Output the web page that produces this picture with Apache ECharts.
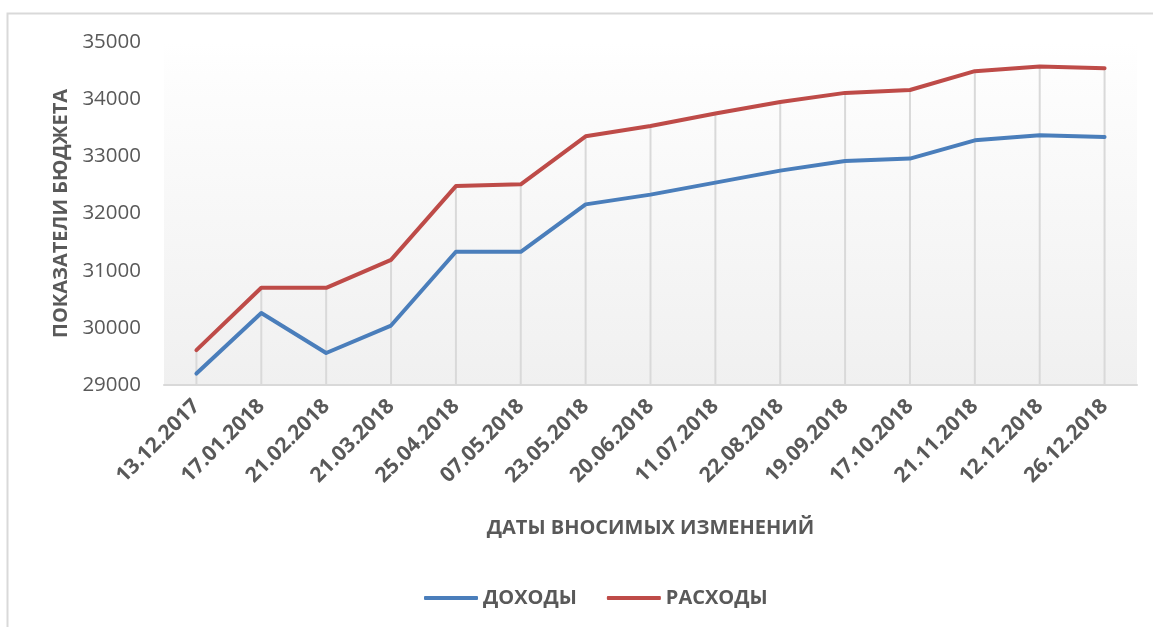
<!DOCTYPE html>
<html>
<head>
<meta charset="utf-8">
<script src="https://cdn.jsdelivr.net/npm/echarts@6/dist/echarts.min.js"></script>
<style>html,body{margin:0;padding:0;background:#fff;}#c{width:1153px;height:627px;}</style>
</head>
<body>
<div id="c"></div>
<script>
const categories = ['13.12.2017','17.01.2018','21.02.2018','21.03.2018','25.04.2018','07.05.2018','23.05.2018','20.06.2018','11.07.2018','22.08.2018','19.09.2018','17.10.2018','21.11.2018','12.12.2018','26.12.2018'];
const incomes  = [29200, 30260, 29560, 30040, 31330, 31330, 32160, 32330, 32540, 32750, 32920, 32960, 33280, 33370, 33340];
const expenses = [29610, 30700, 30700, 31190, 32480, 32510, 33350, 33530, 33750, 33950, 34110, 34160, 34490, 34570, 34540];
const yTicks = [29000, 30000, 31000, 32000, 33000, 34000, 35000];
const seriesNames = ['ДОХОДЫ', 'РАСХОДЫ'];
const axisTitles = { x: 'ДАТЫ ВНОСИМЫХ ИЗМЕНЕНИЙ', y: 'ПОКАЗАТЕЛИ БЮДЖЕТА' };

const FONT = '"Open Sans", "Noto Sans", sans-serif';
const TXT = '#595959';
const chart = echarts.init(document.getElementById('c'), null, { renderer: 'canvas' });
const dropTops = categories.map((c, i) => Math.max(incomes[i], expenses[i]));

chart.setOption({
  animation: false,
  backgroundColor: '#fff',
  graphic: [{
    type: 'rect', silent: true, z: -10,
    shape: { x: 7.5, y: 13.5, width: 1300, height: 800 },
    style: { fill: '#fff', stroke: '#d9d9d9', lineWidth: 2 }
  }],
  grid: {
    left: 164, right: 16, top: 42, bottom: 242,
    show: true, borderWidth: 0,
    backgroundColor: new echarts.graphic.LinearGradient(0, 0, 0, 1, [
      { offset: 0, color: '#ffffff' },
      { offset: 0.1, color: '#fdfdfd' },
      { offset: 1, color: '#f0f0f0' }
    ])
  },
  legend: {
    bottom: 14, left: 419,
    itemWidth: 54, itemHeight: 4, itemGap: 30,
    icon: 'roundRect',
    textStyle: { fontFamily: FONT, fontSize: 20, fontWeight: 'bold', color: TXT },
    data: seriesNames
  },
  xAxis: {
    type: 'category',
    data: categories,
    boundaryGap: true,
    name: axisTitles.x,
    nameLocation: 'middle',
    nameGap: 133,
    nameTextStyle: { fontFamily: FONT, fontSize: 20, fontWeight: 'bold', color: TXT },
    axisLine: { show: true, lineStyle: { color: '#d9d9d9', width: 2 } },
    axisTick: { show: false },
    splitLine: { show: false },
    axisLabel: { rotate: 45, interval: 0, margin: 18, fontFamily: FONT, fontSize: 21, fontWeight: 'bold', color: TXT }
  },
  yAxis: {
    type: 'value',
    min: 29000, max: 35000, interval: 1000,
    name: axisTitles.y,
    nameLocation: 'middle',
    nameGap: 92,
    nameTextStyle: { fontFamily: FONT, fontSize: 20, fontWeight: 'bold', color: TXT },
    axisLine: { show: false },
    axisTick: { show: false },
    splitLine: { show: false },
    axisLabel: { margin: 23, fontFamily: FONT, fontSize: 20.5, color: TXT,
      formatter: v => (yTicks.indexOf(v) >= 0 ? String(v) : '') }
  },
  series: [
    {
      type: 'custom', name: 'drop', silent: true, z: 1,
      data: dropTops.map((v, i) => [i, v]),
      renderItem: (params, api) => {
        const top = api.coord([api.value(0), api.value(1)]);
        const bot = api.coord([api.value(0), 29000]);
        return { type: 'line', shape: { x1: top[0], y1: top[1], x2: bot[0], y2: bot[1] },
          style: { stroke: '#d9d9d9', lineWidth: 2 } };
      }
    },
    {
      name: seriesNames[0], type: 'line', data: incomes, z: 3,
      symbol: 'none', color: '#4a7ebb',
      lineStyle: { width: 4, color: '#4a7ebb', cap: 'round', join: 'round' }
    },
    {
      name: seriesNames[1], type: 'line', data: expenses, z: 3,
      symbol: 'none', color: '#be4b48',
      lineStyle: { width: 4, color: '#be4b48', cap: 'round', join: 'round' }
    }
  ]
});
</script>
</body>
</html>
